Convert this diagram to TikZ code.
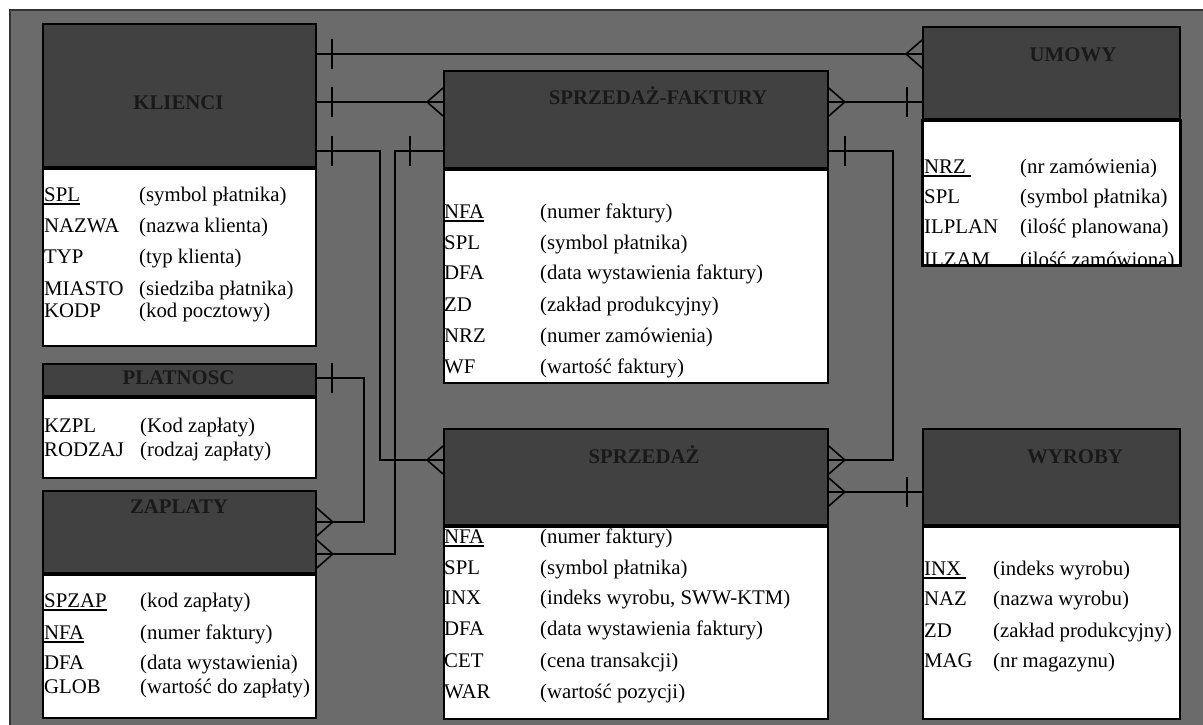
\documentclass[tikz,border=0pt]{standalone}
\usepackage{fontspec}
\setmainfont{Liberation Serif}
\usetikzlibrary{calc}
\definecolor{bggray}{HTML}{6B6B6B}
\definecolor{hdrgray}{HTML}{414141}
\newcommand\ulx[1]{\setbox0\hbox{#1}\rlap{\rule[-3.5pt]{\wd0}{1.4pt}}\box0}
\newcommand\crowL[1]{\draw[conn] ([yshift=14pt]#1) -- ([xshift=-16pt]#1) -- ([yshift=-14pt]#1);}
\newcommand\crowR[1]{\draw[conn] ([yshift=14pt]#1) -- ([xshift=16pt]#1) -- ([yshift=-14pt]#1);}
\newcommand\barAt[2]{\draw[conn] ([xshift=#2,yshift=15pt]#1) -- ([xshift=#2,yshift=-15pt]#1);}
\tikzset{
  hdr/.style={draw=black, line width=1.8pt, fill=hdrgray, anchor=north west, inner sep=0pt},
  bodybox/.style={draw=black, line width=1.8pt, fill=white, anchor=north west, inner sep=0pt},
  ttl/.style={anchor=base, inner sep=0pt, font=\bfseries\fontsize{20.8}{24}\selectfont, text=black!90},
  attr/.style={anchor=base west, inner sep=0pt, font=\fontsize{20.8}{24}\selectfont},
  conn/.style={draw=black, line width=1.6pt},
}
\begin{document}
\begin{tikzpicture}[x=1pt, y=-1pt]
\useasboundingbox (0,0) rectangle (1203,725);
\fill[white] (0,0) rectangle (1203,725);
\draw[fill=bggray, line width=1.5pt, draw=black!80] (10,10) rectangle (1220,740);

% KLIENCI
\node[hdr, minimum width=273pt, minimum height=143pt] (klH) at (42,23) {};
\node[bodybox, minimum width=273pt, minimum height=177pt] (klB) at (klH.south west) {};
\node[ttl] (klT) at (178.5,110) {KLIENCI};
\node[attr] (kl1) at (44,201) {\ulx{SPL}};
\node[attr] (kl1d) at (139,201) {(symbol płatnika)};
\node[attr] (kl2) at (44,232) {NAZWA};
\node[attr] (kl2d) at (139,232) {(nazwa klienta)};
\node[attr] (kl3) at (44,263) {TYP};
\node[attr] (kl3d) at (139,263) {(typ klienta)};
\node[attr] (kl4) at (44,295) {MIASTO};
\node[attr] (kl4d) at (139,295) {(siedziba płatnika)};
\node[attr] (kl5) at (44,317) {KODP};
\node[attr] (kl5d) at (139,317) {(kod pocztowy)};

% PLATNOSC
\node[hdr, minimum width=273pt, minimum height=32pt] (plH) at (42,363) {};
\node[bodybox, minimum width=273pt, minimum height=80pt] (plB) at (plH.south west) {};
\node[ttl] (plT) at (178.5,384) {PLATNOSC};
\node[attr] (pl1) at (44,432) {KZPL};
\node[attr] (pl1d) at (140,432) {(Kod zapłaty)};
\node[attr] (pl2) at (44,456) {RODZAJ};
\node[attr] (pl2d) at (140,456) {(rodzaj zapłaty)};

% ZAPLATY
\node[hdr, minimum width=273pt, minimum height=82pt] (zaH) at (42,490) {};
\node[bodybox, minimum width=273pt, minimum height=143pt] (zaB) at (zaH.south west) {};
\node[ttl] (zaT) at (179,513) {ZAPLATY};
\node[attr] (za1) at (44,607) {\ulx{SPZAP}};
\node[attr] (za1d) at (140,607) {(kod zapłaty)};
\node[attr] (za2) at (44,639) {\ulx{NFA}};
\node[attr] (za2d) at (140,639) {(numer faktury)};
\node[attr] (za3) at (44,669) {DFA};
\node[attr] (za3d) at (140,669) {(data wystawienia)};
\node[attr] (za4) at (44,693) {GLOB};
\node[attr] (za4d) at (140,693) {(wartość do zapłaty)};

% SPRZEDAZ-FAKTURY
\node[hdr, minimum width=384pt, minimum height=97pt] (sfH) at (443,70) {};
\node[bodybox, minimum width=384pt, minimum height=213pt] (sfB) at (sfH.south west) {};
\node[ttl] (sfT) at (658,105) {SPRZEDAŻ-FAKTURY};
\node[attr] (sf1) at (444,218) {\ulx{NFA}};
\node[attr] (sf1d) at (540,218) {(numer faktury)};
\node[attr] (sf2) at (444,249) {SPL};
\node[attr] (sf2d) at (540,249) {(symbol płatnika)};
\node[attr] (sf3) at (444,279) {DFA};
\node[attr] (sf3d) at (540,279) {(data wystawienia faktury)};
\node[attr] (sf4) at (444,311) {ZD};
\node[attr] (sf4d) at (540,311) {(zakład produkcyjny)};
\node[attr] (sf5) at (444,342) {NRZ};
\node[attr] (sf5d) at (540,342) {(numer zamówienia)};
\node[attr] (sf6) at (444,373) {WF};
\node[attr] (sf6d) at (540,373) {(wartość faktury)};

% UMOWY
\node[hdr, minimum width=257pt, minimum height=92pt] (umH) at (922,26) {};
\node[bodybox, minimum width=257pt, minimum height=144pt] (umB) at (umH.south west) {};
\node[ttl] (umT) at (1073,62) {UMOWY};
\node[attr] (um1) at (924,173) {\ulx{NRZ\ }};
\node[attr] (um1d) at (1020,173) {(nr zamówienia)};
\node[attr] (um2) at (924,203) {SPL};
\node[attr] (um2d) at (1020,203) {(symbol płatnika)};
\node[attr] (um3) at (924,233) {ILPLAN};
\node[attr] (um3d) at (1020,233) {(ilość planowana)};
\begin{scope}
\clip (umB.north west) rectangle (umB.south east);
\node[attr] (um4) at (924,266) {ILZAM};
\node[attr] (um4d) at (1020,266) {(ilość zamówiona)};
\end{scope}
\draw[line width=1.8pt] (umB.north west) rectangle (umB.south east);

% SPRZEDAZ
\node[hdr, minimum width=384pt, minimum height=96pt] (spH) at (443,428) {};
\node[bodybox, minimum width=384pt, minimum height=192pt] (spB) at (spH.south west) {};
\node[ttl] (spT) at (644,463) {SPRZEDAŻ};
\node[attr] (sp1) at (444,543) {\ulx{NFA}};
\node[attr] (sp1d) at (540,543) {(numer faktury)};
\node[attr] (sp2) at (444,574) {SPL};
\node[attr] (sp2d) at (540,574) {(symbol płatnika)};
\node[attr] (sp3) at (444,604) {INX};
\node[attr] (sp3d) at (540,604) {(indeks wyrobu, SWW-KTM)};
\node[attr] (sp4) at (444,635) {DFA};
\node[attr] (sp4d) at (540,635) {(data wystawienia faktury)};
\node[attr] (sp5) at (444,667) {CET};
\node[attr] (sp5d) at (540,667) {(cena transakcji)};
\node[attr] (sp6) at (444,698) {WAR};
\node[attr] (sp6d) at (540,698) {(wartość pozycji)};

% WYROBY
\node[hdr, minimum width=257pt, minimum height=96pt] (wyH) at (922,428) {};
\node[bodybox, minimum width=257pt, minimum height=192pt] (wyB) at (wyH.south west) {};
\node[ttl] (wyT) at (1075,463) {WYROBY};
\node[attr] (wy1) at (924,575) {\ulx{INX\ }};
\node[attr] (wy1d) at (993,575) {(indeks wyrobu)};
\node[attr] (wy2) at (924,605) {NAZ};
\node[attr] (wy2d) at (993,605) {(nazwa wyrobu)};
\node[attr] (wy3) at (924,637) {ZD};
\node[attr] (wy3d) at (993,637) {(zakład produkcyjny)};
\node[attr] (wy4) at (924,667) {MAG};
\node[attr] (wy4d) at (993,667) {(nr magazynu)};

% connectors
\coordinate (kU) at ([yshift=-31pt]klH.north east);
\coordinate (uK) at (umH.west |- kU);
\draw[conn] (kU) -- (uK);
\barAt{kU}{15pt}
\crowL{uK}

\coordinate (kS) at ([yshift=-79pt]klH.north east);
\coordinate (sK) at (sfH.west |- kS);
\draw[conn] (kS) -- (sK);
\barAt{kS}{15pt}
\crowL{sK}

\coordinate (sU) at (sfH.east |- kS);
\coordinate (uS) at (umH.west |- kS);
\draw[conn] (sU) -- (uS);
\crowR{sU}
\barAt{uS}{-15pt}

\coordinate (kP) at ([yshift=-128pt]klH.north east);
\coordinate (pK) at ([yshift=-32pt]spH.north west);
\draw[conn] (kP) -- ++(63,0) |- (pK);
\barAt{kP}{15pt}
\crowL{pK}

\coordinate (sZ) at (sfH.west |- kP);
\coordinate (zS) at ([yshift=-64pt]zaH.north east);
\draw[conn] (sZ) -- ++(-48,0) |- (zS);
\barAt{sZ}{-33pt}
\crowR{zS}

\coordinate (pZ) at ([yshift=-15pt]plH.north east);
\coordinate (zP) at ([yshift=-32pt]zaH.north east);
\draw[conn] (pZ) -- ++(47,0) |- (zP);
\barAt{pZ}{15pt}
\crowR{zP}

\coordinate (sP) at (sfH.east |- kP);
\coordinate (pS) at (spH.east |- pK);
\draw[conn] (sP) -- ++(64,0) |- (pS);
\barAt{sP}{16pt}
\crowR{pS}

\coordinate (pW) at ([yshift=-64pt]spH.north east);
\coordinate (wP) at (wyH.west |- pW);
\draw[conn] (pW) -- (wP);
\crowR{pW}
\barAt{wP}{-15pt}
\end{tikzpicture}
\end{document}
